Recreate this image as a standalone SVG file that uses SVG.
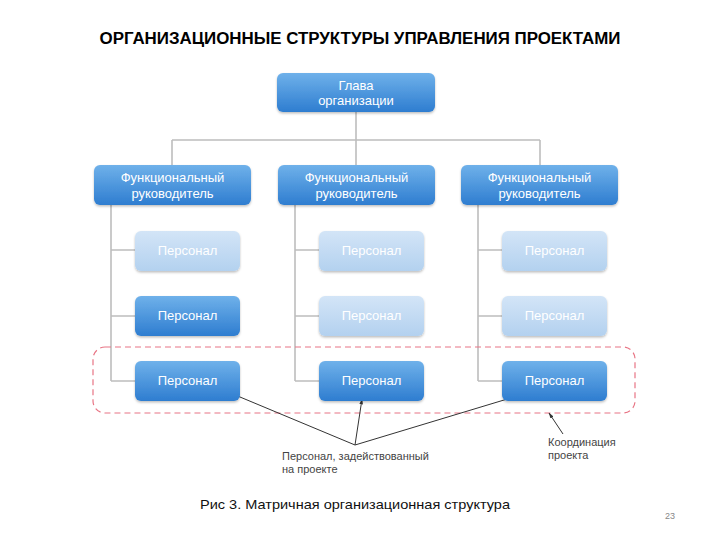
<svg xmlns="http://www.w3.org/2000/svg" width="720" height="540" viewBox="0 0 720 540">
<defs>
<linearGradient id="gDark" x1="0" y1="0" x2="0" y2="1">
<stop offset="0" stop-color="#6fb1ea"/>
<stop offset="1" stop-color="#2e7dd0"/>
</linearGradient>
<linearGradient id="gLight" x1="0" y1="0" x2="0" y2="1">
<stop offset="0" stop-color="#d3e5f7"/>
<stop offset="1" stop-color="#b3d1ef"/>
</linearGradient>
<filter id="sh" x="-10%" y="-10%" width="120%" height="130%">
<feDropShadow dx="0" dy="1.5" stdDeviation="1.2" flood-color="#000" flood-opacity="0.25"/>
</filter>
<marker id="ah" viewBox="0 0 10 10" refX="9" refY="5" markerWidth="6" markerHeight="6" orient="auto">
<path d="M0,2 L10,5 L0,8 z" fill="#333"/>
</marker>
</defs>
<style>
.dark{fill:url(#gDark);filter:url(#sh)}
.light{fill:url(#gLight);filter:url(#sh)}
.bt{font-family:"Liberation Sans",Arial,sans-serif;font-size:13px;fill:#fff;text-anchor:middle}
.conn{stroke:#bdbdbd;stroke-width:1.6;fill:none}
.ptr{stroke:#333;stroke-width:1;fill:none;marker-end:url(#ah)}
.lbl{font-family:"Liberation Sans",Arial,sans-serif;font-size:11px;fill:#444}
</style>
<rect width="720" height="540" fill="#fff"/>
<text x="360" y="44" font-family="'Liberation Sans',Arial,sans-serif" font-weight="bold" font-size="16" text-anchor="middle" textLength="521" lengthAdjust="spacingAndGlyphs" fill="#000">ОРГАНИЗАЦИОННЫЕ СТРУКТУРЫ УПРАВЛЕНИЯ ПРОЕКТАМИ</text>

<g id="connectors">
<path class="conn" d="M356,112 V140 M172,140 H540 M172,140 V165 M356,140 V165 M540,140 V165"/>
<path class="conn" d="M111,205 V381 M111,250 H135 M111,316 H135 M111,381 H135"/>
<path class="conn" d="M295,205 V381 M295,250 H319 M295,316 H319 M295,381 H319"/>
<path class="conn" d="M478,205 V381 M478,250 H502 M478,316 H502 M478,381 H502"/>
<rect x="93" y="347" width="542" height="66" rx="12" fill="none" stroke="#e87585" stroke-width="1.2" stroke-dasharray="6 4"/>
<path class="ptr" d="M355,445 L228,392"/>
<path class="ptr" d="M355,445 L362,399"/>
<path class="ptr" d="M355,445 L514,397"/>
<path class="ptr" d="M563,434 L549,413"/>
</g>

<g id="head"><rect class="dark" x="277" y="73" width="158" height="39" rx="6"/><text class="bt" x="356" y="90">Глава</text><text class="bt" x="356" y="105">организации</text></g>

<g id="f1"><rect class="dark" x="94" y="165" width="157" height="40" rx="6"/><text class="bt" x="172.5" y="182">Функциональный</text><text class="bt" x="172.5" y="198">руководитель</text></g>
<g id="f2"><rect class="dark" x="278" y="165" width="157" height="40" rx="6"/><text class="bt" x="356.5" y="182">Функциональный</text><text class="bt" x="356.5" y="198">руководитель</text></g>
<g id="f3"><rect class="dark" x="461" y="165" width="157" height="40" rx="6"/><text class="bt" x="539.5" y="182">Функциональный</text><text class="bt" x="539.5" y="198">руководитель</text></g>

<g id="p11"><rect class="light" x="135" y="231" width="105" height="40" rx="6"/><text class="bt" x="187.5" y="255">Персонал</text></g>
<g id="p12"><rect class="dark" x="135" y="296" width="105" height="40" rx="6"/><text class="bt" x="187.5" y="320">Персонал</text></g>
<g id="p13"><rect class="dark" x="135" y="361" width="105" height="40" rx="6"/><text class="bt" x="187.5" y="385">Персонал</text></g>
<g id="p21"><rect class="light" x="319" y="231" width="105" height="40" rx="6"/><text class="bt" x="371.5" y="255">Персонал</text></g>
<g id="p22"><rect class="light" x="319" y="296" width="105" height="40" rx="6"/><text class="bt" x="371.5" y="320">Персонал</text></g>
<g id="p23"><rect class="dark" x="319" y="361" width="105" height="40" rx="6"/><text class="bt" x="371.5" y="385">Персонал</text></g>
<g id="p31"><rect class="light" x="502" y="231" width="105" height="40" rx="6"/><text class="bt" x="554.5" y="255">Персонал</text></g>
<g id="p32"><rect class="light" x="502" y="296" width="105" height="40" rx="6"/><text class="bt" x="554.5" y="320">Персонал</text></g>
<g id="p33"><rect class="dark" x="502" y="361" width="105" height="40" rx="6"/><text class="bt" x="554.5" y="385">Персонал</text></g>

<g id="label-staff"><text class="lbl" x="282" y="460">Персонал, задействованный</text><text class="lbl" x="282" y="473">на проекте</text></g>
<g id="label-coord"><text class="lbl" x="548" y="446">Координация</text><text class="lbl" x="548" y="459">проекта</text></g>

<text x="200" y="509" font-family="'Liberation Sans',Arial,sans-serif" font-size="13" fill="#111" textLength="310" lengthAdjust="spacingAndGlyphs">Рис 3. Матричная организационная структура</text>
<text x="670" y="519" font-family="'Liberation Sans',Arial,sans-serif" font-size="9" fill="#888" text-anchor="middle">23</text>
</svg>
